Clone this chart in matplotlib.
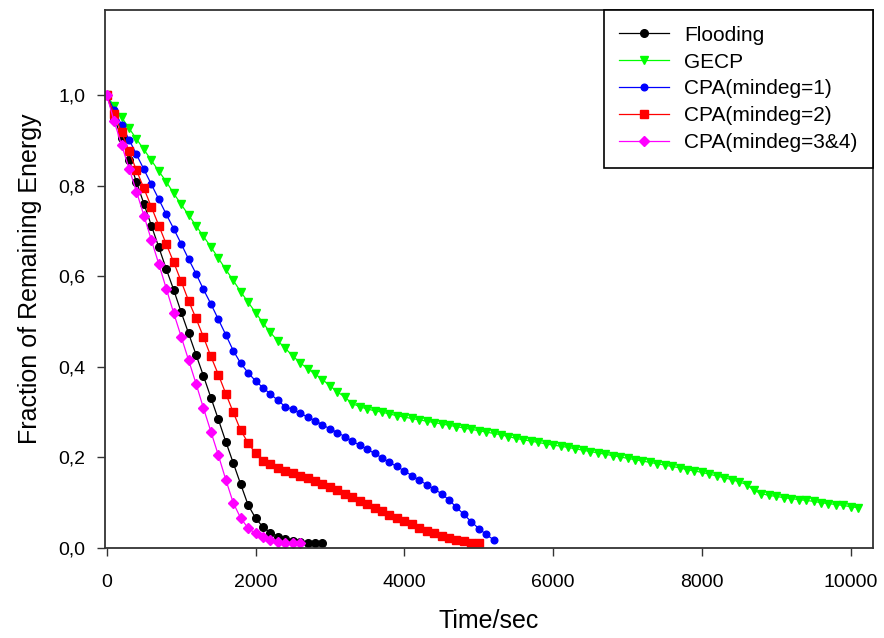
import matplotlib
matplotlib.use("Agg")
import matplotlib.pyplot as plt
from matplotlib.ticker import FuncFormatter

plt.rcParams['font.family'] = ['Liberation Sans', 'DejaVu Sans']

# sample times (sec), one marker every 100 sec
t_flood = list(range(0, 3000, 100))
t_gecp = list(range(0, 10200, 100))
t_cpa1 = list(range(0, 5300, 100))
t_cpa2 = list(range(0, 5100, 100))
t_cpa34 = list(range(0, 2700, 100))

flooding = [1.000, 0.950, 0.905, 0.857, 0.808, 0.760, 0.712, 0.664, 0.616, 0.570,
            0.521, 0.474, 0.427, 0.380, 0.332, 0.284, 0.235, 0.188, 0.141, 0.095,
            0.066, 0.046, 0.034, 0.025, 0.020, 0.016, 0.013, 0.012, 0.011, 0.011]

gecp = [1.000, 0.975, 0.951, 0.927, 0.903, 0.880, 0.856, 0.832, 0.809, 0.783,
        0.759, 0.735, 0.712, 0.688, 0.665, 0.640, 0.615, 0.591, 0.566, 0.543,
        0.520, 0.497, 0.476, 0.457, 0.441, 0.424, 0.409, 0.396, 0.384, 0.372,
        0.358, 0.345, 0.333, 0.319, 0.312, 0.307, 0.303, 0.300, 0.296, 0.292,
        0.289, 0.286, 0.283, 0.280, 0.277, 0.274, 0.271, 0.268, 0.265, 0.262,
        0.259, 0.256, 0.253, 0.250, 0.246, 0.242, 0.239, 0.236, 0.233, 0.230,
        0.227, 0.225, 0.222, 0.219, 0.216, 0.213, 0.210, 0.207, 0.204, 0.201,
        0.198, 0.195, 0.192, 0.189, 0.186, 0.183, 0.180, 0.177, 0.173, 0.170,
        0.167, 0.163, 0.159, 0.155, 0.151, 0.146, 0.140, 0.127, 0.120, 0.116,
        0.114, 0.111, 0.109, 0.107, 0.105, 0.103, 0.100, 0.098, 0.096, 0.094,
        0.091, 0.089]

cpa1 = [1.000, 0.967, 0.934, 0.902, 0.869, 0.836, 0.803, 0.770, 0.737, 0.705,
        0.672, 0.638, 0.606, 0.571, 0.539, 0.505, 0.471, 0.436, 0.408, 0.387,
        0.369, 0.354, 0.340, 0.326, 0.312, 0.306, 0.298, 0.289, 0.281, 0.272,
        0.263, 0.255, 0.246, 0.236, 0.227, 0.218, 0.209, 0.199, 0.189, 0.180,
        0.170, 0.160, 0.150, 0.140, 0.130, 0.120, 0.106, 0.090, 0.074, 0.058,
        0.043, 0.030, 0.018]

cpa2 = [1.000, 0.958, 0.918, 0.876, 0.834, 0.794, 0.753, 0.712, 0.671, 0.631,
        0.589, 0.546, 0.507, 0.466, 0.423, 0.383, 0.341, 0.300, 0.260, 0.232,
        0.209, 0.193, 0.185, 0.177, 0.171, 0.165, 0.160, 0.154, 0.148, 0.141,
        0.134, 0.127, 0.120, 0.112, 0.104, 0.097, 0.089, 0.081, 0.073, 0.066,
        0.059, 0.052, 0.045, 0.038, 0.032, 0.027, 0.022, 0.018, 0.015, 0.012,
        0.010]

cpa34 = [1.000, 0.942, 0.890, 0.838, 0.787, 0.734, 0.680, 0.627, 0.573, 0.519,
         0.467, 0.415, 0.363, 0.309, 0.257, 0.205, 0.151, 0.100, 0.066, 0.044,
         0.032, 0.024, 0.017, 0.013, 0.011, 0.010, 0.010]

fig = plt.figure(figsize=(8.84, 6.38), dpi=100)
ax = fig.add_axes([0.1188, 0.1411, 0.8688, 0.8432])

ax.plot(t_flood, flooding, color='black', marker='o', markersize=5.5, lw=0.9, label='Flooding')
ax.plot(t_gecp, gecp, color='#00ff00', marker='v', markersize=6, lw=0.9, label='GECP')
ax.plot(t_cpa1, cpa1, color='#0000ff', marker='o', markersize=4.8, lw=0.9, label='CPA(mindeg=1)')
ax.plot(t_cpa2, cpa2, color='#ff0000', marker='s', markersize=5.5, lw=0.9, label='CPA(mindeg=2)')
ax.plot(t_cpa34, cpa34, color='#ff00ff', marker='D', markersize=5.3, lw=0.9, label='CPA(mindeg=3&4)')

ax.set_xlim(-23, 10300)
ax.set_ylim(0, 1.188)
ax.set_xticks([0, 2000, 4000, 6000, 8000, 10000])
ax.set_yticks([0.0, 0.2, 0.4, 0.6, 0.8, 1.0])
ax.yaxis.set_major_formatter(FuncFormatter(lambda v, p: f"{v:.1f}".replace('.', ',')))
ax.tick_params(direction='out', length=6, width=1, labelsize=14, color='#333333', pad=8)
ax.tick_params(axis='x', pad=13)

for s in ax.spines.values():
    s.set_linewidth(1.3)
    s.set_color('#333333')

ax.set_xlabel('Time/sec', fontsize=18, labelpad=13)
ax.set_ylabel('Fraction of Remaining Energy', fontsize=18, labelpad=12)

leg = ax.legend(loc='upper right', bbox_to_anchor=(1, 1), borderaxespad=0,
                fontsize=15, handlelength=2.4, handletextpad=0.7, labelspacing=0.38,
                borderpad=0.75, fancybox=False, edgecolor='black', framealpha=1)
leg.get_frame().set_linewidth(1.2)

fig.savefig('out.png', dpi=100)
